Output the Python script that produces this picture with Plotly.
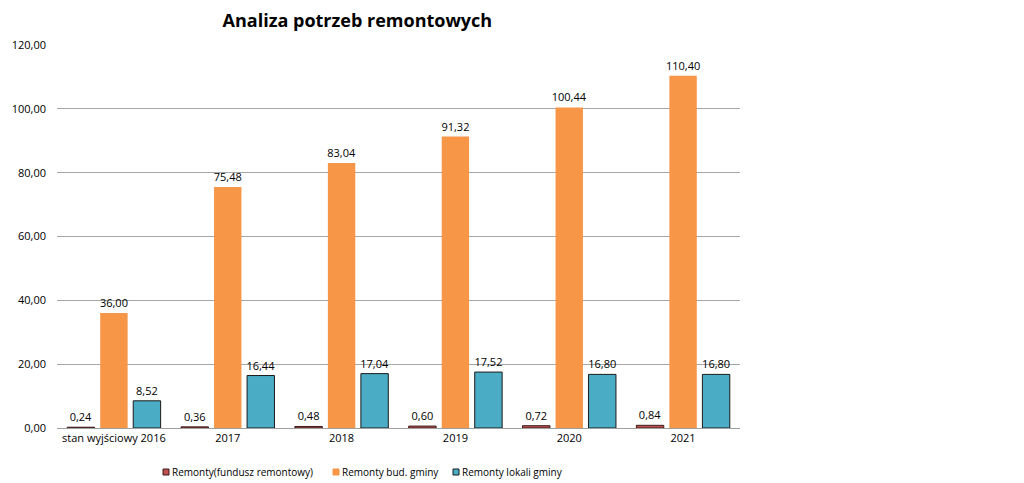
import plotly.graph_objects as go

categories = ["stan wyjściowy 2016", "2017", "2018", "2019", "2020", "2021"]
fundusz = [0.24, 0.36, 0.48, 0.60, 0.72, 0.84]
bud_gminy = [36.00, 75.48, 83.04, 91.32, 100.44, 110.40]
lokali_gminy = [8.52, 16.44, 17.04, 17.52, 16.80, 16.80]
series_names = ["Remonty(fundusz remontowy)", "Remonty bud. gminy", "Remonty lokali gminy"]

styles = [
    ("#C0504D", "#3A1A1A", 1),
    ("#F79646", "#F79646", 0),
    ("#4BACC6", "#1A1A1A", 1),
]
# legend text left edges in pixels (layout only)
legend_text_px = [170, 340, 460]

W, H = 1024, 483
ML, MR, MT, MB = 57, 284, 45, 55
PW, PH = W - ML - MR, H - MT - MB


def px_to_paper_x(px):
    return (px - ML) / PW


def px_to_paper_y(py):
    return (H - MB - py) / PH


fig = go.Figure()
for name, vals, (color, lc, lw) in zip(series_names, [fundusz, bud_gminy, lokali_gminy], styles):
    fig.add_trace(go.Bar(
        name=name, x=categories, y=vals,
        marker=dict(color=color, line=dict(color=lc, width=lw)),
        texttemplate="%{y:.2f}", textposition="outside",
        textfont=dict(size=11, color="#000000"),
        constraintext="none",
        cliponaxis=False,
    ))

# custom legend
legend_y = 472
for name, (color, lc, lw), tx in zip(series_names, styles, legend_text_px):
    fig.add_annotation(
        xref="paper", yref="paper", x=px_to_paper_x(tx), y=px_to_paper_y(legend_y),
        xanchor="left", yanchor="middle", text=name, showarrow=False,
        font=dict(size=10, color="#000000"),
    )
    fig.add_shape(
        type="rect", xref="paper", yref="paper",
        x0=px_to_paper_x(tx - 7), x1=px_to_paper_x(tx - 1),
        y0=px_to_paper_y(legend_y + 3), y1=px_to_paper_y(legend_y - 3),
        fillcolor=color, line=dict(color=lc if lw else color, width=1),
    )

fig.update_layout(
    width=W, height=H,
    paper_bgcolor="white", plot_bgcolor="white",
    separators=", ",
    font=dict(family="Open Sans, Liberation Sans, sans-serif", size=11, color="#000000"),
    title=dict(text="<b>Analiza potrzeb remontowych</b>", x=0.349, xanchor="center",
               y=0.958, yanchor="middle", font=dict(size=18, color="#000000")),
    margin=dict(l=ML, r=MR, t=MT, b=MB, autoexpand=False),
    barmode="group", bargap=0.13, bargroupgap=0.17,
    showlegend=False,
    xaxis=dict(showline=True, linecolor="#A0A0A0", linewidth=1, ticks="",
               tickfont=dict(size=11)),
    yaxis=dict(range=[0, 120], dtick=20, tickformat=".2f", showgrid=True,
               gridcolor="#A6A6A6", gridwidth=1, zeroline=False, ticks="",
               tickfont=dict(size=11), ticklabelstandoff=10),
)

fig.write_html(
    "out.html",
    config={"displayModeBar": False},
    post_script="document.body.style.margin='0';document.body.style.overflow='hidden';",
)
